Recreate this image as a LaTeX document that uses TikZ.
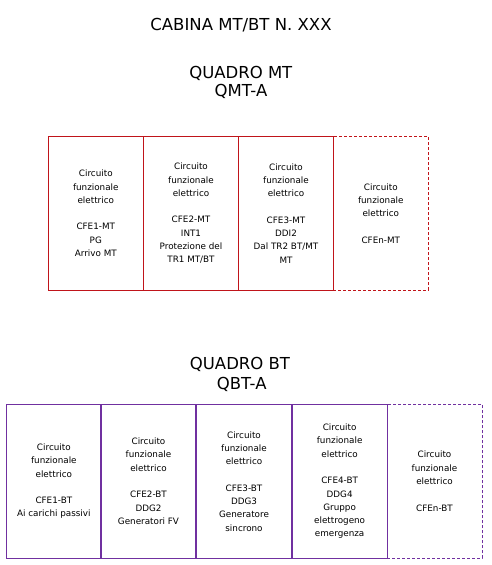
\documentclass[tikz,border=0pt]{standalone}
\usepackage{fontspec}
\setmainfont{DejaVu Sans}
\definecolor{mtred}{HTML}{C0141A}
\definecolor{btpurple}{HTML}{7030A0}
\begin{document}
\begin{tikzpicture}[x=1pt,y=-1pt,
  title/.style={font=\fontsize{16.5}{19}\selectfont, text height=12pt, text depth=0pt, inner sep=0pt},
  cell/.style={draw, line width=0.9pt, inner sep=0pt, minimum width=95pt, align=center,
     font=\fontsize{8.8}{13.3}\selectfont},
  mtcell/.style={cell, draw=mtred, minimum height=153.3pt},
  btcell/.style={cell, draw=btpurple, line width=1.2pt, minimum height=154pt},
  dashcell/.style={dash pattern=on 3pt off 2pt}]
\useasboundingbox (0,0) rectangle (492,565);
\node[title] (t0) at (241,24.2) {CABINA MT/BT N. XXX};
\node[title] (t1) at (240.8,72.8) {QUADRO MT};
\node[title] (t2) at (241,90.9) {QMT-A};
\node[title] (t3) at (240,363.8) {QUADRO BT};
\node[title] (t4) at (241.7,383.3) {QBT-A};

\node[mtcell, dashcell] (m4) at (380.8,213.4) {Circuito\\funzionale\\elettrico\\[13.3pt]CFEn-MT};
\node[mtcell] (m1) at (95.8,213.4) {Circuito\\funzionale\\elettrico\\[13.3pt]CFE1-MT\\PG\\Arrivo MT};
\node[mtcell] (m2) at (191,213.4) {Circuito\\funzionale\\elettrico\\[13.3pt]CFE2-MT\\INT1\\Protezione del\\TR1 MT/BT};
\node[mtcell] (m3) at (286,213.4) {Circuito\\funzionale\\elettrico\\[13.3pt]CFE3-MT\\DDI2\\Dal TR2 BT/MT\\MT};

\node[btcell, dashcell, line width=0.9pt] (b5) at (434.5,481.3) {Circuito\\funzionale\\elettrico\\[13.3pt]CFEn-BT};
\node[btcell] (b1) at (53.85,481.3) {Circuito\\funzionale\\elettrico\\[13.3pt]CFE1-BT\\Ai carichi passivi};
\node[btcell] (b2) at (148.5,481.3) {Circuito\\funzionale\\elettrico\\[13.3pt]CFE2-BT\\DDG2\\Generatori FV};
\node[btcell] (b3) at (244,481.3) {Circuito\\funzionale\\elettrico\\[13.3pt]CFE3-BT\\DDG3\\Generatore\\sincrono};
\node[btcell] (b4) at (339.65,481.3) {Circuito\\funzionale\\elettrico\\[13.3pt]CFE4-BT\\DDG4\\Gruppo\\elettrogeno\\emergenza};
\end{tikzpicture}
\end{document}
